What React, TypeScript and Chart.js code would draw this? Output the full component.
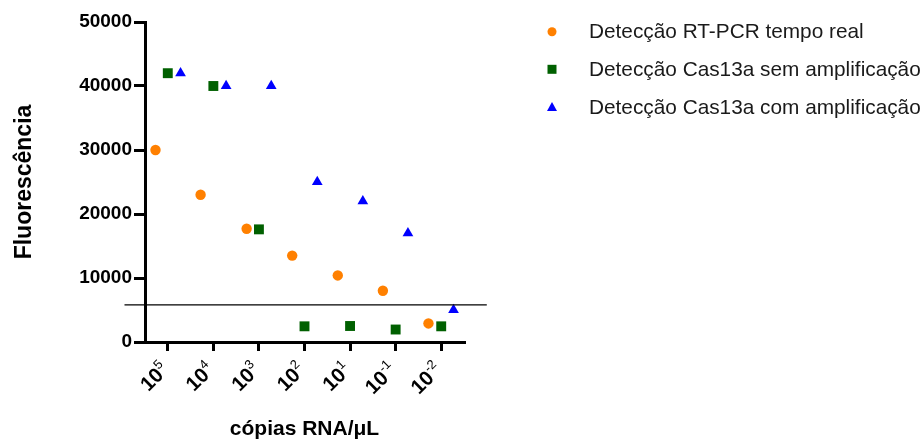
import React, { useEffect, useRef } from 'react';
import { Chart, registerables } from 'chart.js';

Chart.register(...registerables);

// ---- Data ----
const xTickPositions = [1, 2, 3, 4, 5, 6, 7];
const xTickBase = ['10', '10', '10', '10', '10', '10', '10'];
const xTickExponents = ['5', '4', '3', '2', '1', '-1', '-2'];

const seriesNames = [
  'Detecção RT-PCR tempo real',
  'Detecção Cas13a sem amplificação',
  'Detecção Cas13a com amplificação',
];

const rtPcrX = [0.73, 1.72, 2.73, 3.73, 4.73, 5.72, 6.72];
const rtPcrY = [30000, 23000, 17700, 13500, 10400, 8000, 2900];

const semAmpX = [1, 2, 3, 4, 5, 6, 7];
const semAmpY = [42000, 40000, 17600, 2450, 2500, 1950, 2450];

const comAmpX = [1.28, 2.28, 3.27, 4.28, 5.28, 6.27, 7.27];
const comAmpY = [42000, 40000, 40000, 25000, 22000, 17000, 5000];

const thresholdX = [0.05, 8.0];
const thresholdY = 5800;

const yMin = 0;
const yMax = 50000;
const yStep = 10000;

// ---- Styles ----
const FONT = '"Liberation Sans", Arial, Helvetica, sans-serif';
const colors = ['#FF8000', '#006000', '#0000FF'];

const legendPlugin = {
  id: 'customLegend',
  afterDraw(chart: any) {
    const ctx = chart.ctx as CanvasRenderingContext2D;
    const markerX = 552;
    const textX = 589;
    const markerRows = [31.7, 69.3, 106.9];
    const textRows = [32, 70.2, 108.4];
    ctx.save();
    markerRows.forEach((y, i) => {
      ctx.fillStyle = colors[i];
      ctx.beginPath();
      if (i === 0) {
        ctx.arc(markerX, y, 4.5, 0, Math.PI * 2);
      } else if (i === 1) {
        ctx.rect(markerX - 4.5, y - 4.5, 9, 9);
      } else {
        ctx.moveTo(markerX, y - 5);
        ctx.lineTo(markerX + 5, y + 4);
        ctx.lineTo(markerX - 5, y + 4);
        ctx.closePath();
      }
      ctx.fill();
      ctx.fillStyle = '#1a1a1a';
      ctx.font = `20.8px ${FONT}`;
      ctx.textBaseline = 'middle';
      ctx.textAlign = 'left';
      ctx.fillText(seriesNames[i], textX, textRows[i]);
    });
    ctx.restore();
  },
};

const xLabelPlugin = {
  id: 'xSuperscriptLabels',
  afterDraw(chart: any) {
    const ctx = chart.ctx as CanvasRenderingContext2D;
    const xs = chart.scales.x;
    const axisY = xs.top;
    ctx.save();
    ctx.fillStyle = '#000';
    ctx.textBaseline = 'middle';
    ctx.textAlign = 'right';
    xTickPositions.forEach((v, i) => {
      const px = xs.getPixelForValue(v);
      ctx.save();
      ctx.translate(px - 2, axisY + 25);
      ctx.rotate(-Math.PI / 4);
      ctx.font = `13px ${FONT}`;
      const exp = xTickExponents[i];
      const ew = ctx.measureText(exp).width;
      ctx.fillText(exp, 0, -6.5);
      ctx.font = `bold 20.5px ${FONT}`;
      ctx.fillText(xTickBase[i], -ew, 0);
      ctx.restore();
    });
    ctx.restore();
  },
};

export default function App() {
  const canvasRef = useRef<HTMLCanvasElement | null>(null);

  useEffect(() => {
    if (!canvasRef.current) return;
    const toPts = (xs: number[], ys: number[]) => xs.map((x, i) => ({ x, y: ys[i] }));
    const chart = new Chart(canvasRef.current, {
      type: 'scatter',
      data: {
        datasets: [
          {
            label: 'Limiar',
            type: 'line',
            data: thresholdX.map((x) => ({ x, y: thresholdY })),
            borderColor: '#000',
            borderWidth: 1.3,
            pointRadius: 0,
            showLine: true,
            clip: false,
          } as any,
          {
            label: seriesNames[0],
            data: toPts(rtPcrX, rtPcrY),
            pointStyle: 'circle',
            pointRadius: 5.2,
            backgroundColor: colors[0],
            borderColor: colors[0],
            borderWidth: 0,
          },
          {
            label: seriesNames[1],
            data: toPts(semAmpX, semAmpY),
            pointStyle: 'rect',
            pointRadius: 7,
            backgroundColor: colors[1],
            borderColor: colors[1],
            borderWidth: 0,
          },
          {
            label: seriesNames[2],
            data: toPts(comAmpX, comAmpY),
            pointStyle: 'triangle',
            pointRadius: 6.2,
            backgroundColor: colors[2],
            borderColor: colors[2],
            borderWidth: 0,
          },
        ],
      },
      options: {
        animation: false,
        responsive: false,
        layout: { padding: { top: 22, right: 459, bottom: 0, left: 0 } },
        plugins: {
          legend: { display: false },
          tooltip: { enabled: false },
        },
        scales: {
          x: {
            type: 'linear',
            min: 0.5,
            max: 7.5,
            afterBuildTicks: (s: any) => {
              s.ticks = xTickPositions.map((v) => ({ value: v }));
            },
            afterFit: (s: any) => {
              s.height = 102;
            },
            ticks: {
              display: false,
              autoSkip: false,
            },
            grid: {
              display: true,
              drawOnChartArea: false,
              drawTicks: true,
              tickLength: 9,
              color: '#000',
              lineWidth: 3,
            },
            border: { display: true, color: '#000', width: 3 },
            title: {
              display: true,
              text: 'cópias RNA/μL',
              color: '#000',
              font: { family: FONT, size: 21, weight: 'bold' },
              padding: { top: 0, bottom: 2 },
            },
          },
          y: {
            min: yMin,
            max: yMax,
            afterFit: (s: any) => {
              s.width = 145;
            },
            ticks: {
              stepSize: yStep,
              color: '#000',
              padding: 2,
              font: { family: FONT, size: 19, weight: 'bold' },
              callback: (v: any) => String(v),
            },
            grid: {
              display: true,
              drawOnChartArea: false,
              drawTicks: true,
              tickLength: 11,
              color: '#000',
              lineWidth: 3,
            },
            border: { display: true, color: '#000', width: 3 },
            title: {
              display: true,
              text: 'Fluorescência',
              color: '#000',
              font: { family: FONT, size: 23, weight: 'bold' },
              padding: { top: 11, bottom: 0 },
            },
          },
        },
      },
      plugins: [legendPlugin, xLabelPlugin],
    } as any);
    return () => chart.destroy();
  }, []);

  return (
    <div style={{ position: 'absolute', left: 0, top: 0, width: 923, height: 444 }}>
      <canvas ref={canvasRef} width={923} height={444} />
    </div>
  );
}
